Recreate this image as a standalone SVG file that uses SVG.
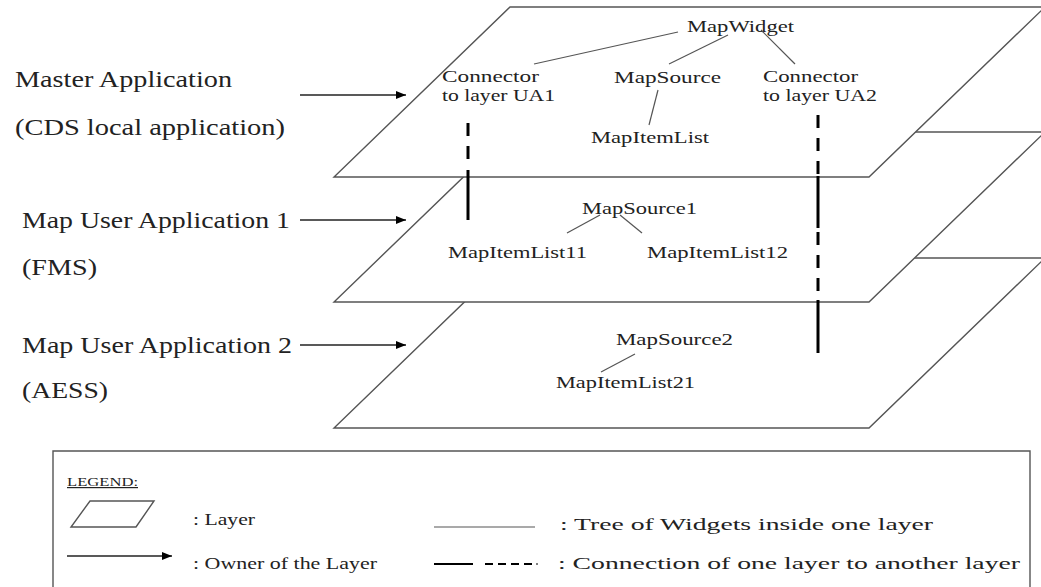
<svg xmlns="http://www.w3.org/2000/svg" width="1041" height="587" viewBox="0 0 1041 587">
<style>
.layer{fill:#fff;stroke:#555;stroke-width:1.4}
.t{font-family:"Liberation Serif","Times New Roman",serif;fill:#222}
.lbl{font-size:24px}
.n{font-size:17px}
.lg{font-size:17px}
.tree{stroke:#555;stroke-width:1.2;fill:none}
.own{stroke:#222;stroke-width:1.4;fill:none}
.conn{stroke:#000;stroke-width:3;fill:none}
.dash{stroke:#000;stroke-width:3;fill:none;stroke-dasharray:13 10}
</style>
<defs>
<marker id="ah" viewBox="0 0 10 10" refX="10" refY="5" markerWidth="10" markerHeight="10" markerUnits="userSpaceOnUse" orient="auto">
<path d="M0,1 L10,5 L0,9 z" fill="#000"/>
</marker>
</defs>
<rect width="1041" height="587" fill="#fff"/>

<g id="layer-ua2">
<polygon class="layer" points="510,258 1045,258 869,428 334,428"/>
</g>
<g id="layer-ua1">
<polygon class="layer" points="510,132 1045,132 869,302 334,302"/>
</g>
<g id="layer-master">
<polygon class="layer" points="510,7 1045,7 869,177 334,177"/>
</g>

<g id="owner-labels">
<text class="t lbl" x="15" y="87" textLength="217" lengthAdjust="spacingAndGlyphs">Master Application</text>
<text class="t lbl" x="15" y="135" textLength="270" lengthAdjust="spacingAndGlyphs">(CDS local application)</text>
<text class="t lbl" x="22" y="228" textLength="268" lengthAdjust="spacingAndGlyphs">Map User Application 1</text>
<text class="t lbl" x="22" y="275" textLength="75" lengthAdjust="spacingAndGlyphs">(FMS)</text>
<text class="t lbl" x="22" y="353" textLength="270" lengthAdjust="spacingAndGlyphs">Map User Application 2</text>
<text class="t lbl" x="22" y="398" textLength="86" lengthAdjust="spacingAndGlyphs">(AESS)</text>
</g>

<g id="node-mapwidget"><text class="t n" x="687" y="32" textLength="107" lengthAdjust="spacingAndGlyphs">MapWidget</text></g>
<g id="node-connector-ua1">
<text class="t n" x="442" y="82" textLength="97" lengthAdjust="spacingAndGlyphs">Connector</text>
<text class="t n" x="442" y="101" textLength="113" lengthAdjust="spacingAndGlyphs">to layer UA1</text>
</g>
<g id="node-mapsource"><text class="t n" x="614" y="83" textLength="107" lengthAdjust="spacingAndGlyphs">MapSource</text></g>
<g id="node-connector-ua2">
<text class="t n" x="763" y="82" textLength="95" lengthAdjust="spacingAndGlyphs">Connector</text>
<text class="t n" x="763" y="101" textLength="114" lengthAdjust="spacingAndGlyphs">to layer UA2</text>
</g>
<g id="node-mapitemlist"><text class="t n" x="591" y="143" textLength="118" lengthAdjust="spacingAndGlyphs">MapItemList</text></g>
<g id="node-mapsource1"><text class="t n" x="582" y="214" textLength="115" lengthAdjust="spacingAndGlyphs">MapSource1</text></g>
<g id="node-mapitemlist11"><text class="t n" x="448" y="258" textLength="139" lengthAdjust="spacingAndGlyphs">MapItemList11</text></g>
<g id="node-mapitemlist12"><text class="t n" x="647" y="258" textLength="141" lengthAdjust="spacingAndGlyphs">MapItemList12</text></g>
<g id="node-mapsource2"><text class="t n" x="616" y="345" textLength="117" lengthAdjust="spacingAndGlyphs">MapSource2</text></g>
<g id="node-mapitemlist21"><text class="t n" x="556" y="388" textLength="139" lengthAdjust="spacingAndGlyphs">MapItemList21</text></g>

<g id="connectors">
<line class="tree" x1="678" y1="32" x2="534" y2="64"/>
<line class="tree" x1="728" y1="35" x2="669" y2="64"/>
<line class="tree" x1="761" y1="30" x2="795" y2="64"/>
<line class="tree" x1="658" y1="90" x2="649" y2="125"/>
<line class="tree" x1="600" y1="215" x2="567" y2="233"/>
<line class="tree" x1="620" y1="215" x2="642" y2="233"/>
<line class="tree" x1="635" y1="354" x2="601" y2="372"/>
<line class="own" x1="300" y1="95" x2="406" y2="95" marker-end="url(#ah)"/>
<line class="own" x1="300" y1="220" x2="406" y2="220" marker-end="url(#ah)"/>
<line class="own" x1="300" y1="345" x2="406" y2="345" marker-end="url(#ah)"/>
<line class="dash" x1="468" y1="123" x2="468" y2="168"/>
<line class="conn" x1="468" y1="170" x2="468" y2="220"/>
<line class="dash" x1="818" y1="115" x2="818" y2="176"/>
<line class="conn" x1="818" y1="176" x2="818" y2="228"/>
<line class="dash" x1="818" y1="232" x2="818" y2="300"/>
<line class="conn" x1="818" y1="300" x2="818" y2="353"/>
</g>

<g id="legend">
<polyline points="53,600 53,451 1030,451 1030,600" fill="none" stroke="#555" stroke-width="1.4"/>
<text class="t" x="67" y="486" font-size="12" text-decoration="underline" textLength="71" lengthAdjust="spacingAndGlyphs">LEGEND:</text>
<polygon points="90,501 154,501 136,527 71,527" fill="#fff" stroke="#555" stroke-width="1.4"/>
<text class="t lg" x="193" y="525" textLength="62" lengthAdjust="spacingAndGlyphs">: Layer</text>
<line class="own" x1="67" y1="556" x2="172" y2="556" marker-end="url(#ah)"/>
<text class="t lg" x="193" y="569" textLength="184" lengthAdjust="spacingAndGlyphs">: Owner of the Layer</text>
<line class="tree" x1="434" y1="527" x2="535" y2="527"/>
<text class="t lg" x="560" y="530" textLength="373" lengthAdjust="spacingAndGlyphs">: Tree of  Widgets inside one layer</text>
<line stroke="#000" stroke-width="2" x1="434" y1="564" x2="473" y2="564"/>
<line stroke="#000" stroke-width="2" stroke-dasharray="8 5" x1="485" y1="564" x2="533" y2="564"/>
<line stroke="#000" stroke-width="1" x1="536" y1="564" x2="538" y2="564"/>
<text class="t lg" x="558" y="569" textLength="462" lengthAdjust="spacingAndGlyphs">: Connection of one layer to another layer</text>
</g>
</svg>
